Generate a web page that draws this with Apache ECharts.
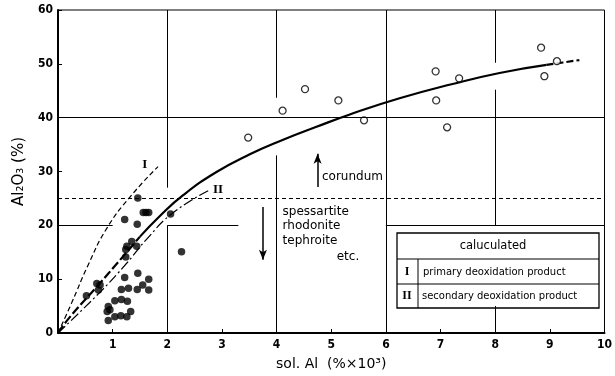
<!DOCTYPE html>
<html>
<head>
<meta charset="utf-8">
<script src="https://cdn.jsdelivr.net/npm/echarts@6/dist/echarts.min.js"></script>
<style>
  html, body { margin: 0; padding: 0; background: #fff; }
  #chart { width: 615px; height: 376px; }
</style>
</head>
<body>
<div id="chart"></div>
<script>
// sol.Al (%x10^3) vs Al2O3 (%)

// filled dots : inclusions
const filledPoints = [
    [1.46, 25.1], [1.56, 22.4], [1.61, 22.4], [1.66, 22.4], [1.22, 21.1], [1.45, 20.2],
    [2.06, 22.1], [2.26, 15.1], [1.35, 17.0], [1.26, 16.1], [1.24, 15.5], [1.44, 16.1],
    [1.24, 14.1], [0.52, 6.9], [0.71, 9.2], [0.77, 8.9], [0.74, 8.0], [1.22, 10.3],
    [1.46, 11.1], [1.66, 10.0], [1.16, 8.1], [1.29, 8.3], [1.45, 8.1], [1.55, 8.9],
    [1.66, 8.0], [1.04, 6.0], [1.16, 6.2], [1.27, 5.9], [0.92, 4.9], [0.95, 4.3],
    [0.9, 4.0], [1.04, 3.0], [1.15, 3.2], [1.26, 3.0], [1.33, 4.0], [0.92, 2.3]
];

// open circles : corundum
const openPoints = [
    [3.48, 36.3], [4.11, 41.3], [4.52, 45.3], [5.13, 43.2], [5.6, 39.5],
    [6.91, 48.6], [7.34, 47.3], [6.92, 43.2], [7.12, 38.2],
    [8.84, 53.0], [9.13, 50.5], [8.9, 47.7]
];

// main curve
const mainCurveDash = [[0, 0], [0.22, 3.0], [0.71, 8.6], [1.13, 13.5], [1.5, 17.9]];
const mainCurveSolid = [
    [1.5, 17.9], [1.86, 21.7], [2.29, 25.6], [2.9, 29.9], [3.51, 33.2], [4.12, 35.9],
    [4.73, 38.3], [5.34, 40.6], [6.25, 43.6], [7.2, 46.2], [8.08, 48.3], [8.94, 49.8]
];
const mainCurveTail = [[8.94, 49.8], [9.54, 50.7]];

// calculated I, II
const curveI = [[0, 0], [0.25, 5.6], [0.55, 12.6], [0.89, 19.4], [1.32, 25.3], [1.83, 30.9]];
const curveII = [[0, 0], [0.77, 7.6], [1.26, 13.0], [1.62, 17.4], [2.1, 22.3], [2.78, 26.6]];

// partial grid lines (as printed)
const gridSegments = [
    [[2, 27], [2, 60]], [[2, 0], [2, 20]],
    [[4, 43.7], [4, 60]], [[4, 0], [4, 33]],
    [[6, 0], [6, 60]],
    [[8, 50.2], [8, 60]], [[8, 20], [8, 45.2]], [[8, 0], [8, 5]],
    [[0, 40], [10, 40]],
    [[0, 20], [1, 20]], [[2, 20], [3.3, 20]], [[6, 20], [10, 20]]
];
const boundaryLevel = 25;
const upArrow = [[4.75, 27.1], [4.75, 33.3]];
const downArrow = [[3.75, 23.4], [3.75, 13.6]];

const xTicks = { min: 0, max: 10, interval: 1 };
const yTicks = { min: 0, max: 60, interval: 10 };

const tickFont = "'Liberation Sans Narrow', 'DejaVu Sans Condensed', 'Liberation Sans', sans-serif";

const chart = echarts.init(document.getElementById('chart'));

function curve(data, width, type) {
    return {
        type: 'line',
        data: data,
        smooth: 0.5,
        showSymbol: false,
        silent: true,
        z: 3,
        lineStyle: { color: '#000', width: width, type: type }
    };
}

const option = {
    animation: false,
    backgroundColor: '#fff',
    grid: {
        left: 58, right: 10, top: 10, bottom: 43,
        show: true, borderColor: '#000', borderWidth: 1
    },
    xAxis: {
        type: 'value',
        min: xTicks.min, max: xTicks.max, interval: xTicks.interval,
        name: 'sol. Al  (%×10³)',
        nameLocation: 'middle',
        nameGap: 24,
        nameTextStyle: { fontSize: 14, color: '#000', fontFamily: 'DejaVu Sans' },
        axisLine: { lineStyle: { color: '#000', width: 2 } },
        axisTick: { inside: true, length: 4, lineStyle: { color: '#000' } },
        axisLabel: {
            color: '#000', fontSize: 12, fontWeight: 'bold', fontFamily: tickFont, margin: 6,
            formatter: v => (v === 0 ? '' : v)
        },
        splitLine: { show: false }
    },
    yAxis: {
        type: 'value',
        min: yTicks.min, max: yTicks.max, interval: yTicks.interval,
        name: 'Al₂O₃ (%)',
        nameLocation: 'middle',
        nameGap: 28,
        nameTextStyle: { fontSize: 15, color: '#000', fontFamily: 'DejaVu Sans' },
        axisLine: { lineStyle: { color: '#000', width: 2 } },
        axisTick: { inside: true, length: 4, lineStyle: { color: '#000' } },
        axisLabel: { color: '#000', fontSize: 12, fontWeight: 'bold', fontFamily: tickFont, margin: 5 },
        splitLine: { show: false }
    },
    series: [
        {
            // grid lines, boundary, arrows
            type: 'line',
            data: [],
            silent: true,
            markLine: {
                silent: true,
                symbol: 'none',
                label: { show: false },
                lineStyle: { color: '#000', width: 1, type: 'solid' },
                data: gridSegments.map(s => [{ coord: s[0] }, { coord: s[1] }]).concat([
                    [{ coord: [0, boundaryLevel], lineStyle: { type: [4, 3], width: 1.2 } },
                     { coord: [10, boundaryLevel] }],
                    [{ coord: upArrow[0], symbol: 'none', lineStyle: { width: 1.5 } },
                     { coord: upArrow[1], symbol: 'arrow', symbolSize: [6, 10] }],
                    [{ coord: downArrow[0], symbol: 'none', lineStyle: { width: 1.5 } },
                     { coord: downArrow[1], symbol: 'arrow', symbolSize: [6, 10] }]
                ])
            }
        },
        curve(mainCurveDash, 2.2, [9, 3]),
        curve(mainCurveSolid, 2.2, 'solid'),
        curve(mainCurveTail, 2.2, [7, 3]),
        curve(curveI, 1.2, [5, 3]),
        curve(curveII, 1.2, [10, 3, 2, 3]),
        {
            type: 'scatter',
            data: filledPoints,
            symbolSize: 7.5,
            z: 4,
            itemStyle: { color: '#000' }
        },
        {
            type: 'scatter',
            data: openPoints,
            symbolSize: 7,
            z: 4,
            itemStyle: { color: '#fff', borderColor: '#000', borderWidth: 1.3 }
        }
    ]
};

chart.setOption(option);

// annotations and the legend table
const px = p => chart.convertToPixel({ gridIndex: 0 }, p);
const txt = (p, text, extra) => Object.assign({
    type: 'text', x: px(p)[0], y: px(p)[1], z: 10,
    style: Object.assign({
        text: text, fill: '#000', fontSize: 12, fontFamily: 'DejaVu Sans',
        verticalAlign: 'middle'
    }, extra || {})
});
const romanFont = "'Liberation Serif', 'DejaVu Serif', serif";

const bx = 397, by = 233, bw = 202, bh = 75;
chart.setOption({
    graphic: [
        txt([4.83, 29.0], 'corundum'),
        txt([4.11, 22.5], 'spessartite'),
        txt([4.11, 19.9], 'rhodonite'),
        txt([4.11, 17.1], 'tephroite'),
        txt([5.1, 14.2], 'etc.'),
        txt([1.59, 31.3], 'I', { fontFamily: romanFont, fontWeight: 'bold', fontSize: 13, align: 'center' }),
        txt([2.93, 26.7], 'II', { fontFamily: romanFont, fontWeight: 'bold', fontSize: 13, align: 'center' }),
        {
            type: 'group', z: 20,
            children: [
                { type: 'rect', shape: { x: bx, y: by, width: bw, height: bh },
                  style: { fill: '#fff', stroke: '#000', lineWidth: 1.3 } },
                { type: 'line', shape: { x1: bx, y1: by + 26, x2: bx + bw, y2: by + 26 },
                  style: { stroke: '#000', lineWidth: 1 } },
                { type: 'line', shape: { x1: bx, y1: by + 51, x2: bx + bw, y2: by + 51 },
                  style: { stroke: '#000', lineWidth: 1 } },
                { type: 'line', shape: { x1: bx + 21, y1: by + 26, x2: bx + 21, y2: by + bh },
                  style: { stroke: '#000', lineWidth: 1 } },
                { type: 'text', x: bx + 96, y: by + 13,
                  style: { text: 'caluculated', fontSize: 11.5, fontFamily: 'DejaVu Sans', fill: '#000',
                           align: 'center', verticalAlign: 'middle' } },
                { type: 'text', x: bx + 10, y: by + 39,
                  style: { text: 'I', fontSize: 12, fontWeight: 'bold', fontFamily: romanFont, fill: '#000',
                           align: 'center', verticalAlign: 'middle' } },
                { type: 'text', x: bx + 10, y: by + 63,
                  style: { text: 'II', fontSize: 12, fontWeight: 'bold', fontFamily: romanFont, fill: '#000',
                           align: 'center', verticalAlign: 'middle' } },
                { type: 'text', x: bx + 26, y: by + 39,
                  style: { text: 'primary deoxidation product', fontSize: 10, fontFamily: 'DejaVu Sans',
                           fill: '#000', verticalAlign: 'middle' } },
                { type: 'text', x: bx + 25, y: by + 63,
                  style: { text: 'secondary deoxidation product', fontSize: 10, fontFamily: 'DejaVu Sans',
                           fill: '#000', verticalAlign: 'middle' } }
            ]
        }
    ]
});

window.addEventListener('resize', () => {
    chart.resize();
});
</script>
</body>
</html>
